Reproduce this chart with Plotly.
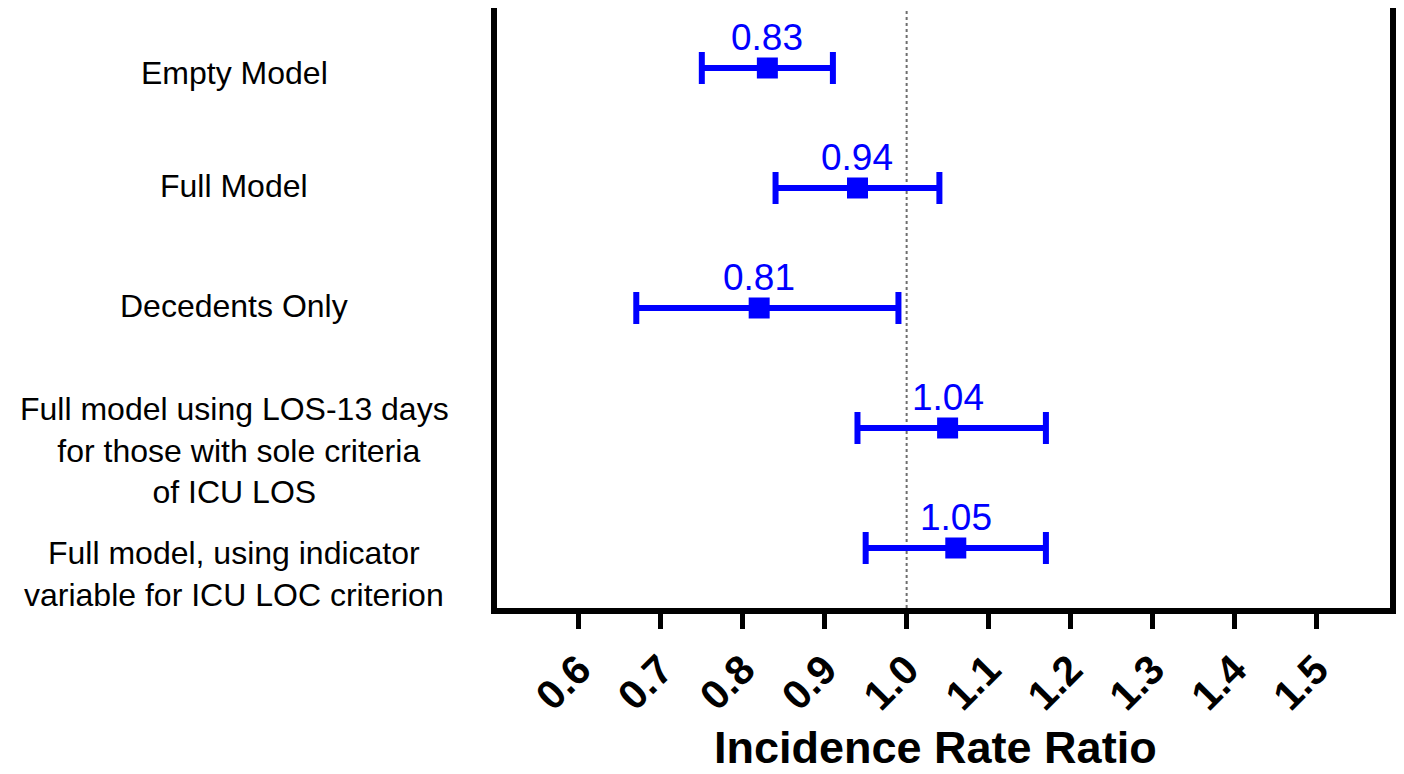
import plotly.graph_objects as go

# ---- data ----
models = [
    "Empty Model",
    "Full Model",
    "Decedents Only",
    "Full model using LOS-13 days<br> for those with sole criteria<br>of ICU LOS",
    "Full model, using indicator<br>variable for ICU LOC criterion",
]
irr = [0.83, 0.94, 0.82, 1.05, 1.06]
ci_low = [0.75, 0.84, 0.67, 0.94, 0.95]
ci_high = [0.91, 1.04, 0.99, 1.17, 1.17]
value_labels = ["0.83", "0.94", "0.81", "1.04", "1.05"]
tick_vals = [0.6, 0.7, 0.8, 0.9, 1.0, 1.1, 1.2, 1.3, 1.4, 1.5]
tick_text = ["0.6", "0.7", "0.8", "0.9", "1.0", "1.1", "1.2", "1.3", "1.4", "1.5"]

rows = list(range(len(models)))
BLUE = "#0000FF"
FONT = "Liberation Sans, Arial, sans-serif"

fig = go.Figure()
fig.add_trace(go.Scatter(
    x=irr, y=rows, mode="markers",
    marker=dict(symbol="square", size=21, color=BLUE),
    error_x=dict(type="data", symmetric=False,
                 array=[h - m for h, m in zip(ci_high, irr)],
                 arrayminus=[m - l for m, l in zip(irr, ci_low)],
                 color=BLUE, thickness=6, width=16),
    showlegend=False, hoverinfo="skip",
))

# reference line at 1.0
fig.add_shape(type="line", xref="x", yref="paper", x0=1.0, x1=1.0, y0=0, y1=1,
              line=dict(color="#6e6e6e", width=2, dash="dot"), layer="below")

annotations = []
# value labels above the points
for r, v, t in zip(rows, irr, value_labels):
    annotations.append(dict(x=v, y=r, xref="x", yref="y", text=t, showarrow=False,
                            xanchor="center", yanchor="middle", yshift=31,
                            font=dict(family=FONT, size=37, color=BLUE)))
# category labels (centered, multi-line)
label_shift = [-5, 2, 2, -22, -26]
for r, m, s in zip(rows, models, label_shift):
    annotations.append(dict(x=-0.294, y=r, xref="paper", yref="y", text=m, showarrow=False,
                            xanchor="center", yanchor="middle", align="center", yshift=s,
                            font=dict(family=FONT, size=32, color="black")))
# x axis title
annotations.append(dict(x=0.4916, y=-0.232, xref="paper", yref="paper",
                        text="<b>Incidence Rate Ratio</b>", showarrow=False,
                        xanchor="center", yanchor="middle",
                        font=dict(family=FONT, size=45, color="black")))

fig.update_layout(
    width=1404, height=774,
    margin=dict(l=497, r=12, t=8, b=166),
    paper_bgcolor="white", plot_bgcolor="white",
    annotations=annotations,
    xaxis=dict(range=[0.5, 1.59], tickvals=tick_vals, ticktext=tick_text,
               tickangle=-45, ticks="outside", ticklen=15, tickwidth=5, tickcolor="black",
               showline=True, linecolor="black", linewidth=6, showgrid=False, zeroline=False,
               tickfont=dict(family=FONT, size=41, color="black", weight="bold")),
    yaxis=dict(range=[4.5, -0.5], showticklabels=False, ticks="",
               showline=True, mirror=True, linecolor="black", linewidth=6,
               showgrid=False, zeroline=False),
)

fig.write_html("out.html")
